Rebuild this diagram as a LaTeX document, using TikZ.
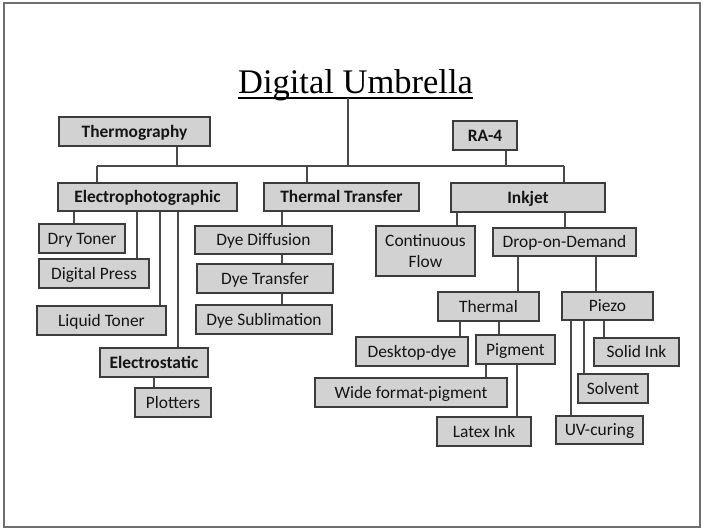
\documentclass[tikz,border=0pt]{standalone}
\usepackage{fontspec}
\setmainfont{Carlito}
\newfontfamily\titlefont{Liberation Serif}
\definecolor{boxfill}{HTML}{D2D2D2}
\definecolor{boxdraw}{HTML}{3C3C3C}
\definecolor{linecol}{HTML}{4A4A4A}
\definecolor{framecol}{HTML}{6E6E6E}
\tikzset{
  box/.style={draw=boxdraw, fill=boxfill, line width=1.4pt, inner sep=0pt,
    font=\fontsize{17.4}{20}\selectfont, text=black!92, align=center,
    text height=13.8pt, text depth=2.6pt},
  multibox/.style={box, text height=, text depth=},
  boldbox/.style={box, font=\fontsize{17.4}{20}\selectfont\bfseries},
  conn/.style={draw=linecol, line width=1.1pt},
  frame/.style={draw=framecol, line width=1.4pt}
}
\newcommand\bx[7][box]{\node[#1, minimum width=#5pt, minimum height=#6pt] (#2) at (#3,#4) {#7};}
\begin{document}
\begin{tikzpicture}[x=1pt,y=-1pt]
\useasboundingbox (0,0) rectangle (703,531);
\draw[frame] (4,3) rectangle (700,527);
% title
\node[inner sep=0pt, anchor=base, font=\titlefont\fontsize{34.5}{40}\selectfont] (title) at (355.5,93) {Digital Umbrella};
\draw[line width=1.8pt] ([yshift=-5pt]title.base west) -- ([yshift=-5pt]title.base east);
\coordinate (bus) at (0,166);
\coordinate (bw) at (97,166);
\coordinate (be) at (564,166);
% boxes
\bx[boldbox]{thermo}{134.5}{131.5}{151}{29}{Thermography}
\bx[boldbox]{ra}{485}{135.5}{64}{29}{RA-4}
\bx[boldbox]{ep}{147.5}{197}{179}{28}{Electrophotographic}
\bx[boldbox]{tt}{341.5}{197}{155}{28}{Thermal Transfer}
\bx[boldbox]{ink}{528}{197.5}{154}{29}{Inkjet}
\bx[multibox]{cf}{425.5}{251}{99}{50}{Continuous\\[1pt]Flow}
\bx{dod}{564.5}{242}{143}{28}{Drop-on-Demand}
\bx{thermal}{488.5}{306.5}{101}{29}{Thermal}
\bx{piezo}{607.5}{306}{91}{28}{Piezo}
\bx{ddye}{412}{351.5}{112}{29}{Desktop-dye}
\bx{pig}{515.5}{349.5}{79}{29}{Pigment}
\bx{wfp}{411}{392.5}{192}{29}{Wide format-pigment}
\bx{latex}{484}{431.5}{94}{29}{Latex Ink}
\bx{solid}{636.5}{352}{85}{28}{Solid Ink}
\bx{solvent}{613}{388.5}{70}{29}{Solvent}
\bx{uv}{599.5}{430}{87}{28}{UV-curing}
\bx{dry}{82}{238.5}{86}{29}{Dry Toner}
\bx{dp}{94}{273.5}{110}{29}{Digital Press}
\bx{lt}{101.5}{320.5}{129}{29}{Liquid Toner}
\bx[boldbox]{es}{154}{362.5}{108}{29}{Electrostatic}
\bx{plot}{173}{402.5}{76}{29}{Plotters}
\bx{diff}{263.5}{240}{137}{28}{Dye Diffusion}
\bx{dtr}{265}{278.5}{136}{29}{Dye Transfer}
\bx{dsub}{264}{319.5}{136}{29}{Dye Sublimation}
% connectors
\newcommand\vl[3]{\path (#1,0) coordinate (tmpx); \draw[conn] (#2 -| tmpx) -- (#3 -| tmpx);}
\draw[conn] (bw) -- (be);
\vl{348}{[yshift=-5pt]title.base}{bus}
\vl{177}{thermo.south}{bus}
\vl{506}{ra.south}{bus}
\vl{97}{bus}{ep.north}
\vl{307}{bus}{tt.north}
\vl{564}{bus}{ink.north}
\vl{457}{ink.south}{cf.north}
\vl{565}{ink.south}{dod.north}
\vl{518}{dod.south}{thermal.north}
\vl{596}{dod.south}{piezo.north}
\vl{460}{thermal.south}{ddye.north}
\vl{499}{thermal.south}{pig.north}
\vl{486}{pig.south}{wfp.north}
\vl{517}{pig.south}{latex.north}
\vl{604}{piezo.south}{solid.north}
\vl{584}{piezo.south}{solvent.north}
\vl{571}{piezo.south}{uv.north}
\vl{74}{ep.south}{dry.north}
\vl{137}{ep.south}{dp.north}
\vl{160}{ep.south}{lt.north}
\vl{178}{ep.south}{es.north}
\vl{154}{es.south}{plot.north}
\vl{282}{tt.south}{diff.north}
\vl{282}{diff.south}{dtr.north}
\vl{282}{dtr.south}{dsub.north}
\end{tikzpicture}
\end{document}
